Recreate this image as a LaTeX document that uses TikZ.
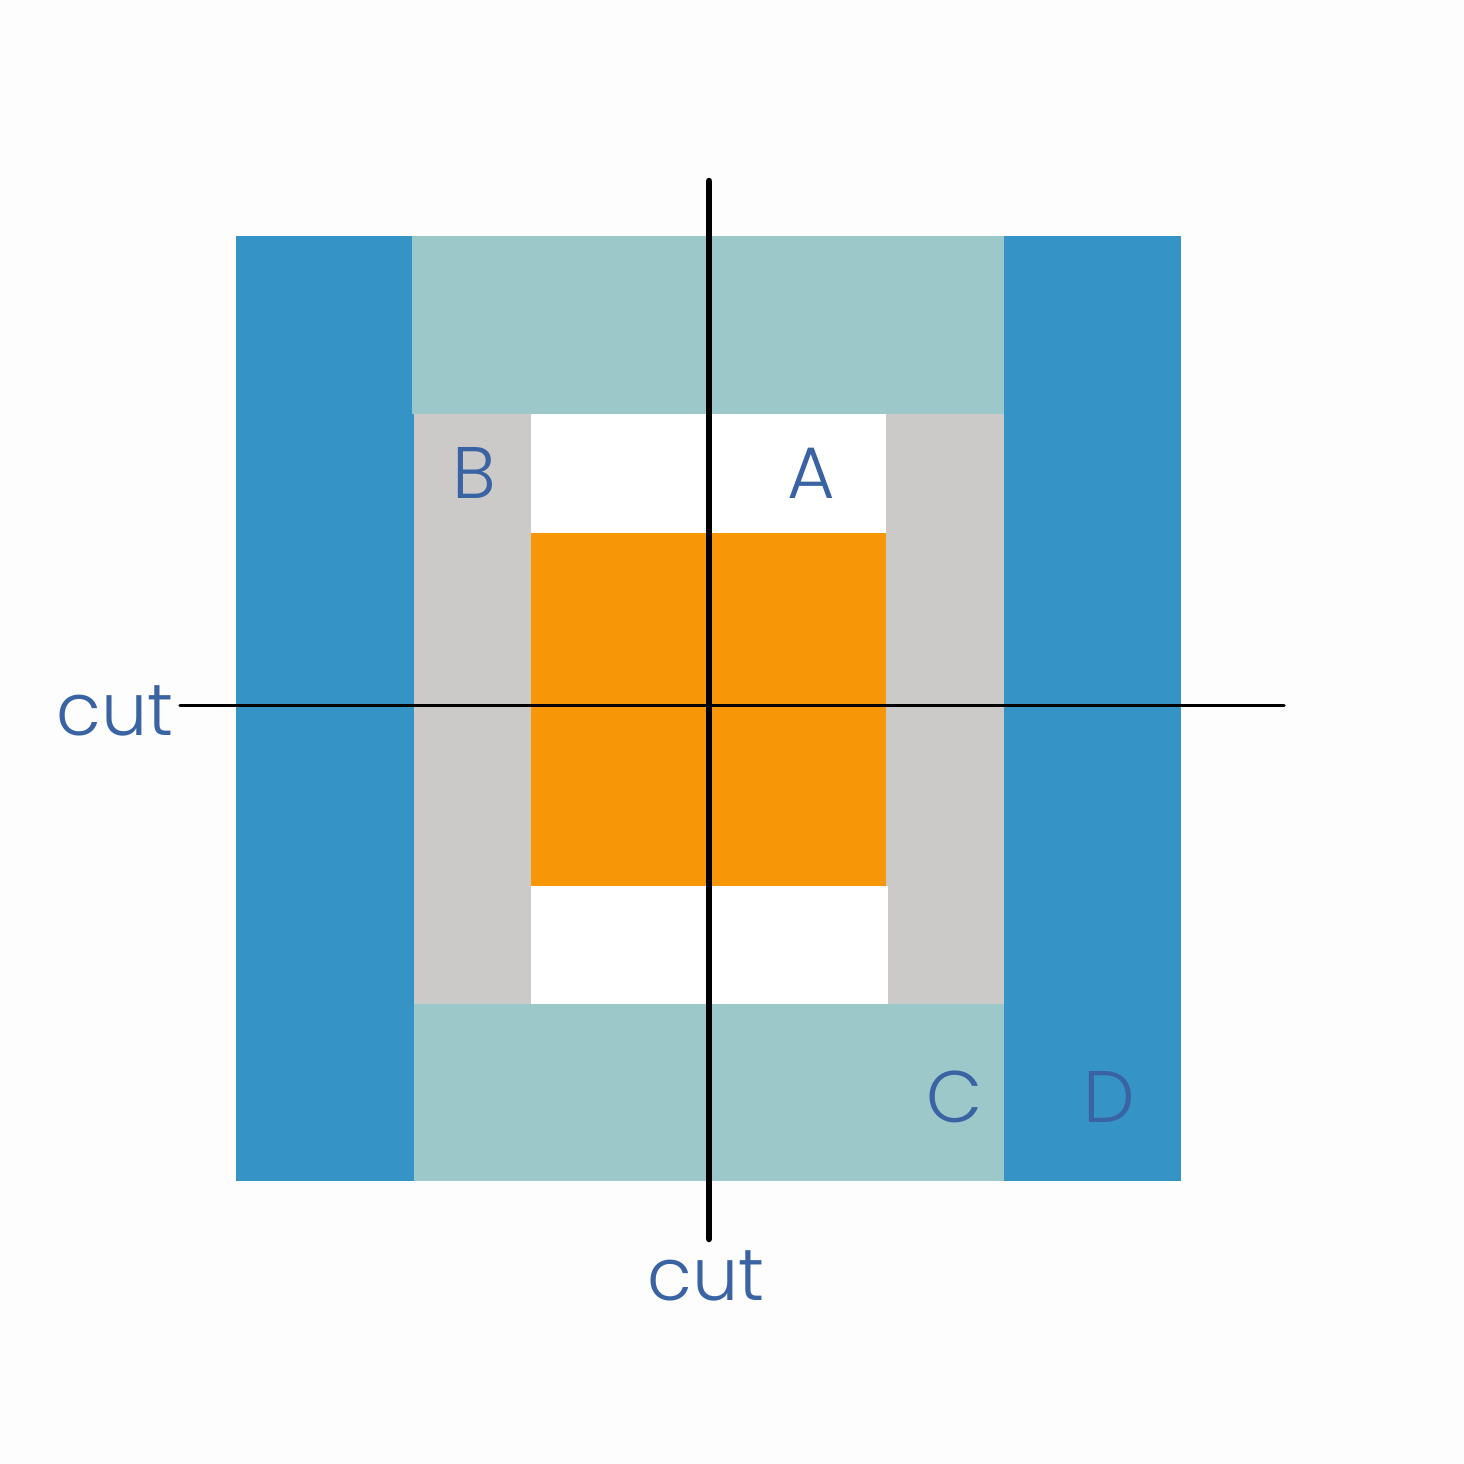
\documentclass[tikz,border=0pt]{standalone}
\usepackage{fontspec}
\setmainfont{Poppins}[UprightFont=* Light]
\definecolor{bgc}{RGB}{253,253,253}
\definecolor{dblue}{RGB}{53,147,198}
\definecolor{teal}{RGB}{157,200,202}
\definecolor{lgray}{RGB}{203,202,200}
\definecolor{orng}{RGB}{247,150,6}
\definecolor{txtc}{RGB}{58,99,163}
\tikzset{
  lbl/.style={text=txtc, anchor=base, inner sep=0pt, font=\fontsize{73}{80}\selectfont},
  cutline/.style={draw=black, line cap=round},
}
\begin{document}
\begin{tikzpicture}[x=1pt,y=-1pt]
\fill[bgc] (0,0) rectangle (1464,1464);
\useasboundingbox (0,0) rectangle (1464,1464);
% outer blue strips
\fill[dblue] (236,236) rectangle (414,1181);
\fill[dblue] (1004,236) rectangle (1181,1181);
% teal bands
\fill[teal] (412,236) rectangle (1004,414);
\fill[teal] (414,1004) rectangle (1004,1181);
% gray strips
\fill[lgray] (414,414) rectangle (531,1004);
\fill[lgray] (886,414) rectangle (1004,1004);
% white blocks
\fill[white] (531,414) rectangle (886,533);
\fill[white] (531,886) rectangle (888,1004);
% orange center
\fill[orng] (531,533) rectangle (886,886);
% cut lines
\coordinate (vtop) at (709,181);
\coordinate (vbot) at (709,1239);
\coordinate (hleft) at (180,705.5);
\coordinate (hright) at (1284,705.5);
\draw[cutline, line width=6.5pt] (vtop) -- (vbot);
\draw[cutline, line width=3.5pt] (hleft) -- (hright);
% labels
\node[lbl] (lA) at (811,498) {A};
\node[lbl] (lB) at (474,498) {B};
\node[lbl] (lC) at (955,1122) {C};
\node[lbl] (lD) at (1109,1122) {D};
\node[lbl] (cutL) at (115,735) {cut};
\node[lbl] (cutB) at (706,1300) {cut};
\end{tikzpicture}
\end{document}
